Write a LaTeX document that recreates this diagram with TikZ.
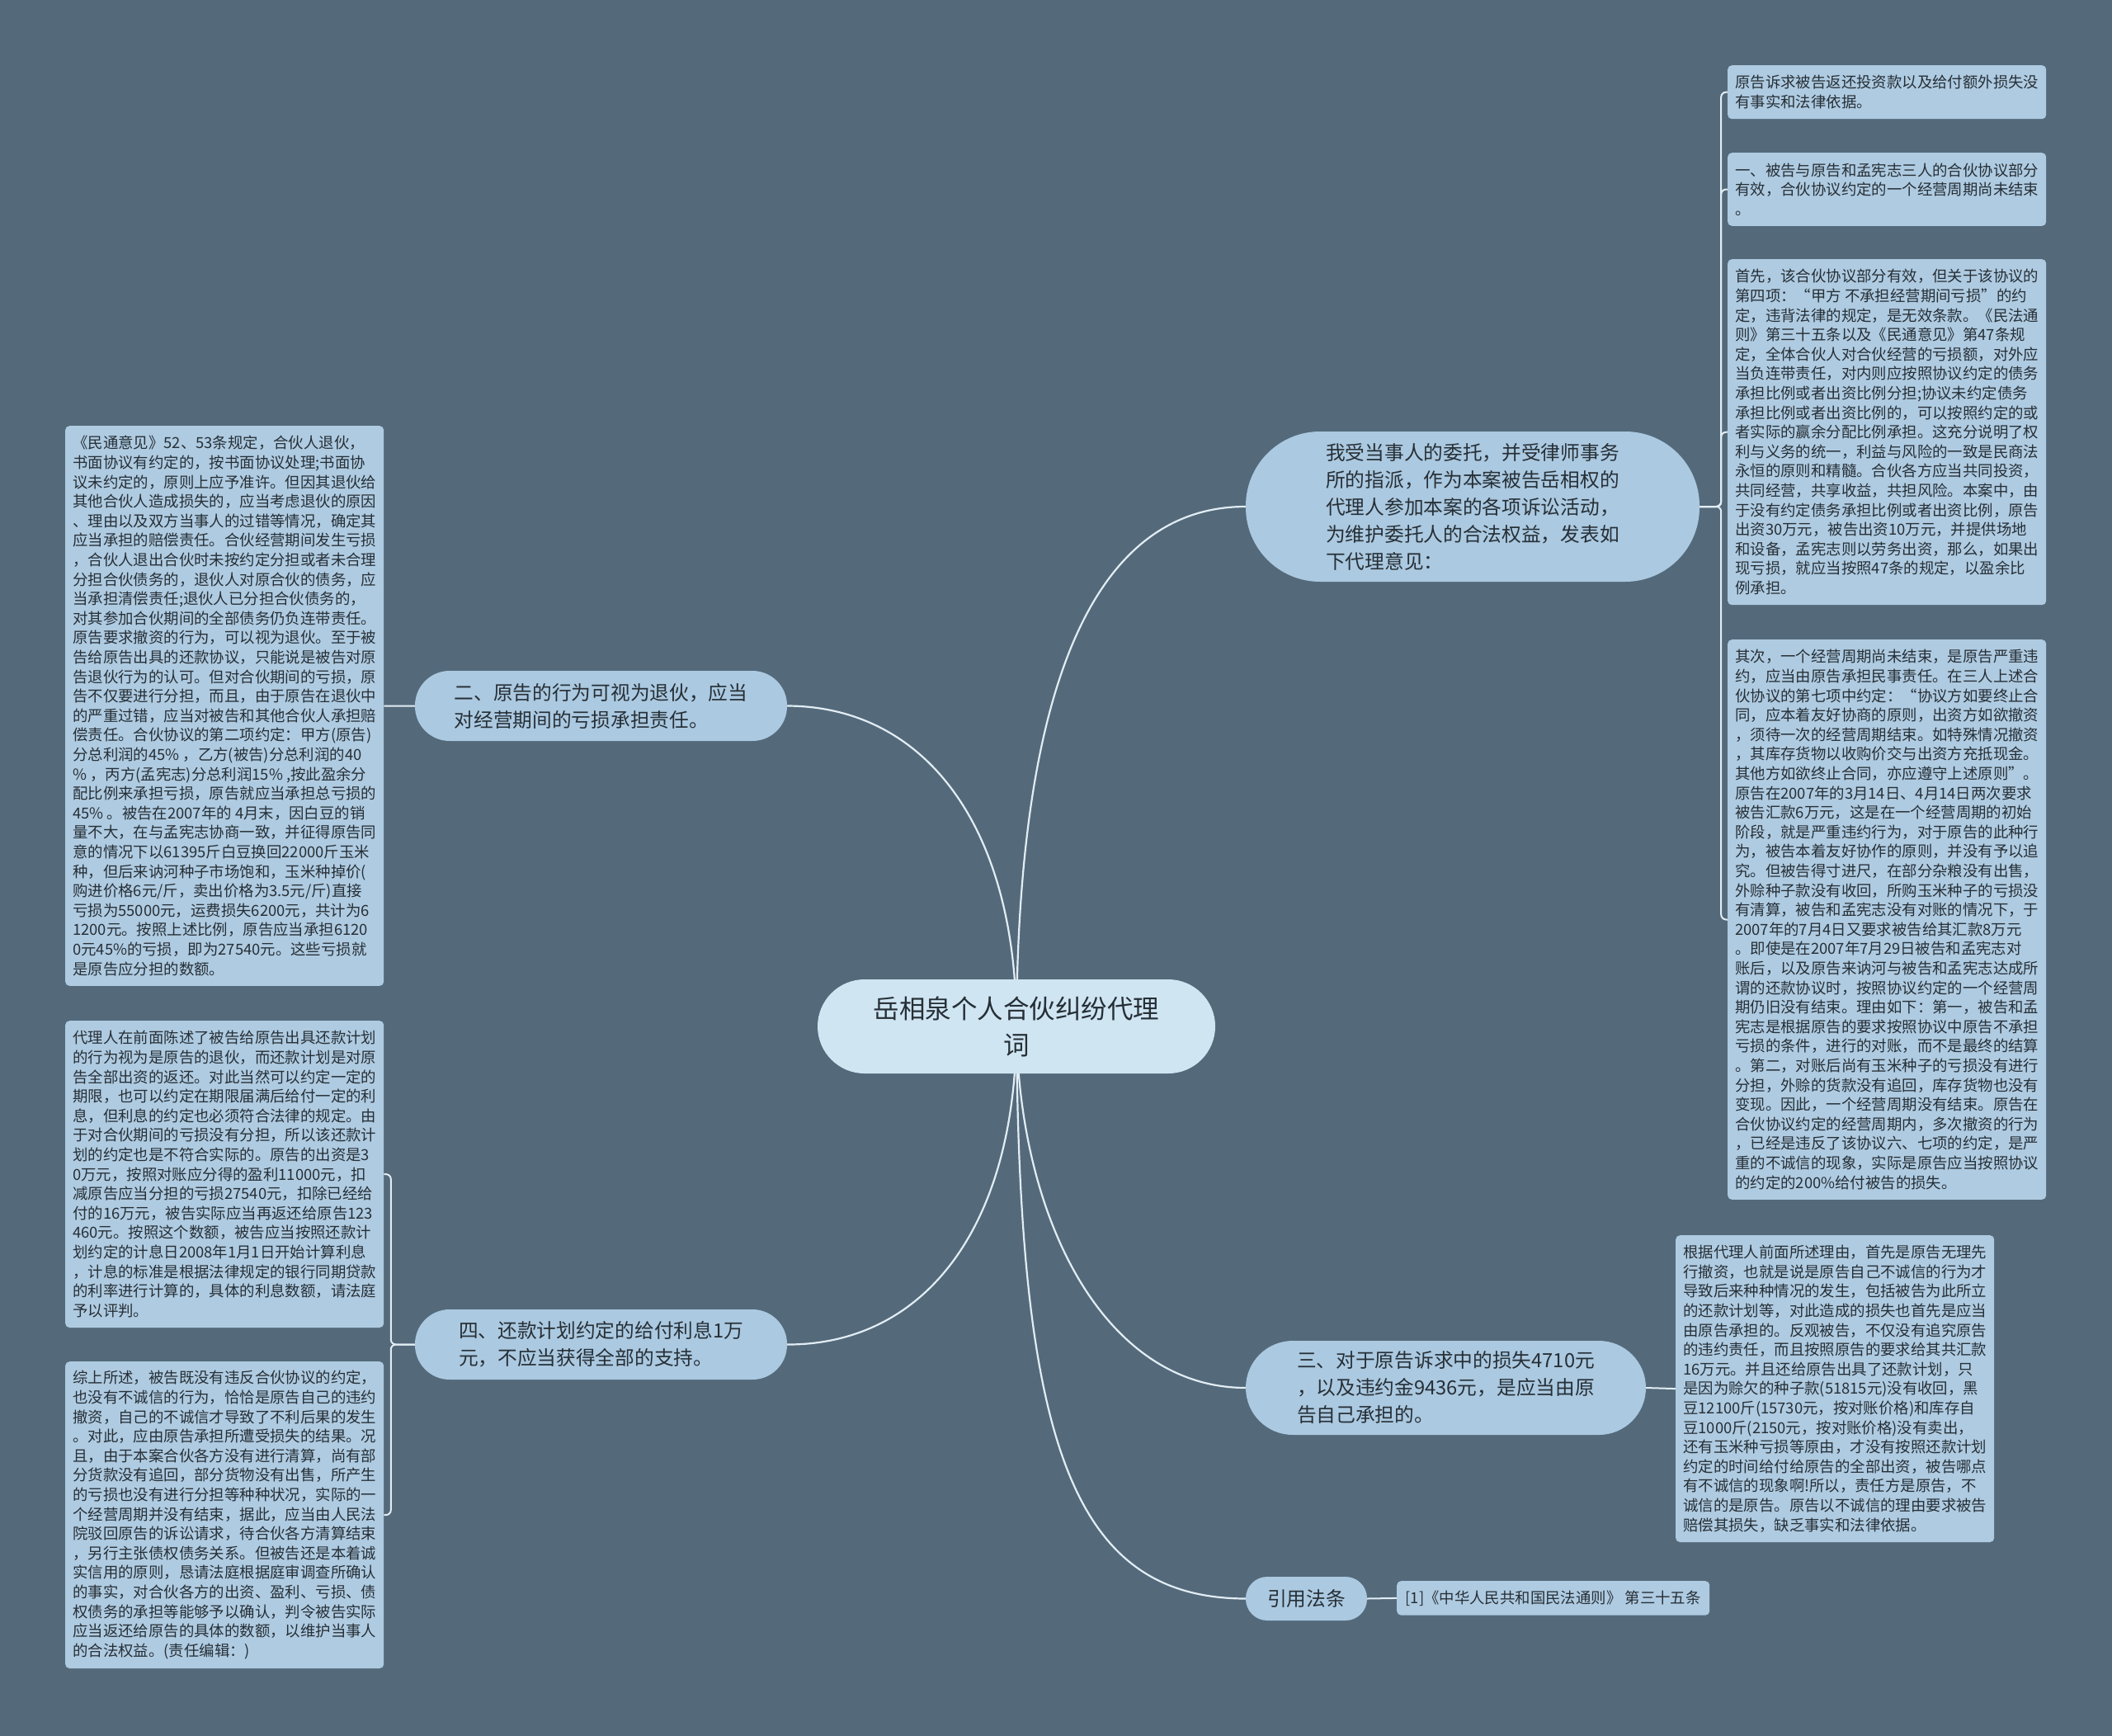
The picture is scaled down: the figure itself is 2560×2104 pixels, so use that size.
\documentclass[tikz,border=0pt]{standalone}
\usepackage{fontspec}
\setmainfont{Noto Sans CJK SC}
\definecolor{bgc}{HTML}{546A7B}
\definecolor{leafc}{HTML}{AFCBE1}
\definecolor{brc}{HTML}{ABC9E0}
\definecolor{ctrc}{HTML}{CFE5F2}
\definecolor{linec}{HTML}{E2EDF4}
\definecolor{txtc}{HTML}{262F36}
\pgfdeclarelayer{back}
\pgfdeclarelayer{lines}
\pgfsetlayers{back,lines,main}
\tikzset{
  leaf/.style={fill=leafc, rounded corners=5pt, inner xsep=9pt, inner ysep=0pt,
    align=left, font=\fontsize{18.4pt}{23.6pt}\selectfont, text=txtc,
    anchor=north west, minimum width=386pt},
  nlines/.style={minimum height={(#1-1)*23.6pt+41.4pt}},
  branch/.style={fill=brc, inner sep=0pt, align=left, text=txtc,
    font=\fontsize{23.7pt}{33pt}\selectfont},
  centre/.style={fill=ctrc, inner sep=0pt, align=center, text=txtc,
    font=\fontsize{31.5pt}{44pt}\selectfont},
  mainline/.style={draw=linec, line width=2.2pt},
  subline/.style={draw=linec, line width=2pt, rounded corners=6pt},
}
\begin{document}
\begin{tikzpicture}[x=1pt,y=-1pt]
\useasboundingbox (0,0) rectangle (2560,2104);
\begin{pgfonlayer}{back}
\fill[bgc] (0,0) rectangle (2560,2104);
\end{pgfonlayer}

% centre
\node[centre, minimum width=482pt, minimum height=114pt, rounded corners=57pt] (ctr) at (1232,1244)
  {岳相泉个人合伙纠纷代理\\词};

% branches
\node[branch, minimum width=550pt, minimum height=182pt, rounded corners=90pt] (A) at (1785,614)
  {我受当事人的委托，并受律师事务\\所的指派，作为本案被告岳相权的\\代理人参加本案的各项诉讼活动，\\为维护委托人的合法权益，发表如\\下代理意见：};
\node[branch, minimum width=451pt, minimum height=85pt, rounded corners=42pt] (B) at (728.5,855.5)
  {二、原告的行为可视为退伙，应当\\对经营期间的亏损承担责任。};
\node[branch, minimum width=451pt, minimum height=85pt, rounded corners=42pt] (C) at (728.5,1629.5)
  {四、还款计划约定的给付利息1万\\元，不应当获得全部的支持。};
\node[branch, minimum width=485pt, minimum height=114pt, rounded corners=57pt] (D) at (1752.5,1682)
  {三、对于原告诉求中的损失4710元\\，以及违约金9436元，是应当由原\\告自己承担的。};
\node[branch, minimum width=147pt, minimum height=53pt, rounded corners=26pt] (E) at (1583.5,1937.5)
  {引用法条};

% right leaves
\node[leaf, nlines=2] (R1) at (2094,79)
  {原告诉求被告返还投资款以及给付额外损失没\\有事实和法律依据。};
\node[leaf, nlines=3] (R2) at (2094,185)
  {一、被告与原告和孟宪志三人的合伙协议部分\\有效，合伙协议约定的一个经营周期尚未结束\\。};
\node[leaf, nlines=17] (R3) at (2094,314)
  {首先，该合伙协议部分有效，但关于该协议的\\
第四项：“甲方 不承担经营期间亏损”的约\\
定，违背法律的规定，是无效条款。《民法通\\
则》第三十五条以及《民通意见》第47条规\\
定，全体合伙人对合伙经营的亏损额，对外应\\
当负连带责任，对内则应按照协议约定的债务\\
承担比例或者出资比例分担;协议未约定债务\\
承担比例或者出资比例的，可以按照约定的或\\
者实际的赢余分配比例承担。这充分说明了权\\
利与义务的统一，利益与风险的一致是民商法\\
永恒的原则和精髓。合伙各方应当共同投资，\\
共同经营，共享收益，共担风险。本案中，由\\
于没有约定债务承担比例或者出资比例，原告\\
出资30万元，被告出资10万元，并提供场地\\
和设备，孟宪志则以劳务出资，那么，如果出\\
现亏损，就应当按照47条的规定，以盈余比\\
例承担。};
\node[leaf, nlines=28] (R4) at (2094,775)
  {其次，一个经营周期尚未结束，是原告严重违\\
约，应当由原告承担民事责任。在三人上述合\\
伙协议的第七项中约定：“协议方如要终止合\\
同，应本着友好协商的原则，出资方如欲撤资\\
，须待一次的经营周期结束。如特殊情况撤资\\
，其库存货物以收购价交与出资方充抵现金。\\
其他方如欲终止合同，亦应遵守上述原则”。\\
原告在2007年的3月14日、4月14日两次要求\\
被告汇款6万元，这是在一个经营周期的初始\\
阶段，就是严重违约行为，对于原告的此种行\\
为，被告本着友好协作的原则，并没有予以追\\
究。但被告得寸进尺，在部分杂粮没有出售，\\
外赊种子款没有收回，所购玉米种子的亏损没\\
有清算，被告和孟宪志没有对账的情况下，于\\
2007年的7月4日又要求被告给其汇款8万元\\
。即使是在2007年7月29日被告和孟宪志对\\
账后，以及原告来讷河与被告和孟宪志达成所\\
谓的还款协议时，按照协议约定的一个经营周\\
期仍旧没有结束。理由如下：第一，被告和孟\\
宪志是根据原告的要求按照协议中原告不承担\\
亏损的条件，进行的对账，而不是最终的结算\\
。第二，对账后尚有玉米种子的亏损没有进行\\
分担，外赊的货款没有追回，库存货物也没有\\
变现。因此，一个经营周期没有结束。原告在\\
合伙协议约定的经营周期内，多次撤资的行为\\
，已经是违反了该协议六、七项的约定，是严\\
重的不诚信的现象，实际是原告应当按照协议\\
的约定的200\%给付被告的损失。};
\node[leaf, nlines=15] (R5) at (2031,1497)
  {根据代理人前面所述理由，首先是原告无理先\\
行撤资，也就是说是原告自己不诚信的行为才\\
导致后来种种情况的发生，包括被告为此所立\\
的还款计划等，对此造成的损失也首先是应当\\
由原告承担的。反观被告，不仅没有追究原告\\
的违约责任，而且按照原告的要求给其共汇款\\
16万元。并且还给原告出具了还款计划，只\\
是因为赊欠的种子款(51815元)没有收回，黑\\
豆12100斤(15730元，按对账价格)和库存自\\
豆1000斤(2150元，按对账价格)没有卖出，\\
还有玉米种亏损等原由，才没有按照还款计划\\
约定的时间给付给原告的全部出资，被告哪点\\
有不诚信的现象啊!所以，责任方是原告，不\\
诚信的是原告。原告以不诚信的理由要求被告\\
赔偿其损失，缺乏事实和法律依据。};
\node[leaf, nlines=1, minimum width=379pt] (ref) at (1693,1916)
  {[1]《中华人民共和国民法通则》 第三十五条};

% left leaves
\node[leaf, nlines=28] (L1) at (79,516)
  {《民通意见》52、53条规定，合伙人退伙，\\
书面协议有约定的，按书面协议处理;书面协\\
议未约定的，原则上应予准许。但因其退伙给\\
其他合伙人造成损失的，应当考虑退伙的原因\\
、理由以及双方当事人的过错等情况，确定其\\
应当承担的赔偿责任。合伙经营期间发生亏损\\
，合伙人退出合伙时未按约定分担或者未合理\\
分担合伙债务的，退伙人对原合伙的债务，应\\
当承担清偿责任;退伙人已分担合伙债务的，\\
对其参加合伙期间的全部债务仍负连带责任。\\
原告要求撤资的行为，可以视为退伙。至于被\\
告给原告出具的还款协议，只能说是被告对原\\
告退伙行为的认可。但对合伙期间的亏损，原\\
告不仅要进行分担，而且，由于原告在退伙中\\
的严重过错，应当对被告和其他合伙人承担赔\\
偿责任。合伙协议的第二项约定：甲方(原告)\\
分总利润的45\% ，乙方(被告)分总利润的40\\
\% ，丙方(孟宪志)分总利润15\% ,按此盈余分\\
配比例来承担亏损，原告就应当承担总亏损的\\
45\% 。被告在2007年的 4月末，因白豆的销\\
量不大，在与孟宪志协商一致，并征得原告同\\
意的情况下以61395斤白豆换回22000斤玉米\\
种，但后来讷河种子市场饱和，玉米种掉价(\\
购进价格6元/斤，卖出价格为3.5元/斤)直接\\
亏损为55000元，运费损失6200元，共计为6\\
1200元。按照上述比例，原告应当承担6120\\
0元45\%的亏损，即为27540元。这些亏损就\\
是原告应分担的数额。};
\node[leaf, nlines=15] (L2) at (79,1237)
  {代理人在前面陈述了被告给原告出具还款计划\\
的行为视为是原告的退伙，而还款计划是对原\\
告全部出资的返还。对此当然可以约定一定的\\
期限，也可以约定在期限届满后给付一定的利\\
息，但利息的约定也必须符合法律的规定。由\\
于对合伙期间的亏损没有分担，所以该还款计\\
划的约定也是不符合实际的。原告的出资是3\\
0万元，按照对账应分得的盈利11000元，扣\\
减原告应当分担的亏损27540元，扣除已经给\\
付的16万元，被告实际应当再返还给原告123\\
460元。按照这个数额，被告应当按照还款计\\
划约定的计息日2008年1月1日开始计算利息\\
，计息的标准是根据法律规定的银行同期贷款\\
的利率进行计算的，具体的利息数额，请法庭\\
予以评判。};
\node[leaf, nlines=15] (L3) at (79,1650)
  {综上所述，被告既没有违反合伙协议的约定，\\
也没有不诚信的行为，恰恰是原告自己的违约\\
撤资，自己的不诚信才导致了不利后果的发生\\
。对此，应由原告承担所遭受损失的结果。况\\
且，由于本案合伙各方没有进行清算，尚有部\\
分货款没有追回，部分货物没有出售，所产生\\
的亏损也没有进行分担等种种状况，实际的一\\
个经营周期并没有结束，据此，应当由人民法\\
院驳回原告的诉讼请求，待合伙各方清算结束\\
，另行主张债权债务关系。但被告还是本着诚\\
实信用的原则，恳请法庭根据庭审调查所确认\\
的事实，对合伙各方的出资、盈利、亏损、债\\
权债务的承担等能够予以确认，判令被告实际\\
应当返还给原告的具体的数额，以维护当事人\\
的合法权益。(责任编辑：)};

\coordinate (tA) at ([xshift=26pt]A.east);
\coordinate (tC) at ([xshift=-29pt]C.west);

\begin{pgfonlayer}{lines}
\draw[mainline] (ctr.center) .. controls (1234,800) and (1340,614) .. (A.west);
\draw[mainline] (ctr.center) .. controls (1232,1000) and (1120,856) .. (B.east);
\draw[mainline] (ctr.center) .. controls (1232,1488) and (1120,1630) .. (C.east);
\draw[mainline] (ctr.center) .. controls (1235,1480) and (1340,1682) .. (D.west);
\draw[mainline] (ctr.center) .. controls (1235,1750) and (1300,1937) .. (E.west);
\draw[subline] (A.east) -- (tA) |- (R1.west);
\draw[subline] (A.east) -- (tA) |- (R2.west);
\draw[subline] (A.east) -- (tA) |- (R3.west);
\draw[subline] (A.east) -- (tA) |- (R4.west);
\draw[subline] (B.west) -- (L1.east);
\draw[subline] (C.west) -- (tC) |- (L2.east);
\draw[subline] (C.west) -- (tC) |- (L3.east);
\draw[subline] (D.east) -- (R5.west);
\draw[subline] (E.east) -- (ref.west);
\end{pgfonlayer}
\end{tikzpicture}
\end{document}
